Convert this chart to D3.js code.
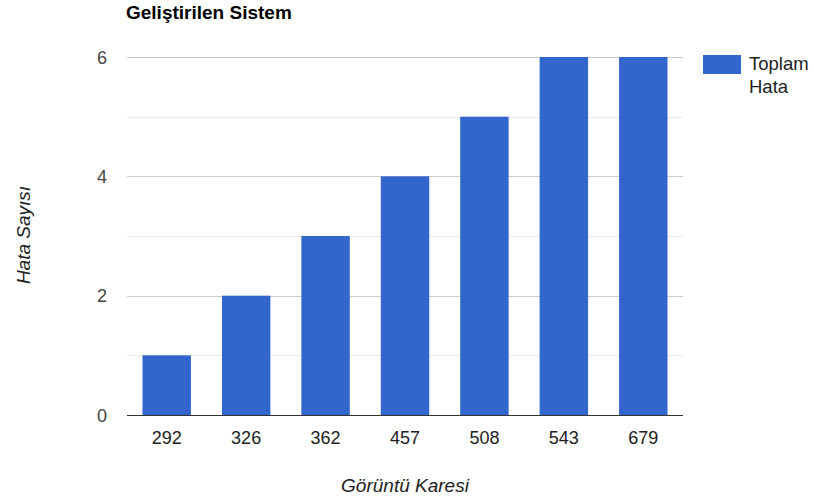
<!DOCTYPE html>
<html><head><meta charset="utf-8">
<script src="https://cdn.jsdelivr.net/npm/d3@7"></script>
<style>body{margin:0;background:#fff}svg{display:block;font-family:"Liberation Sans",Arial,sans-serif}</style>
</head><body><div id="c"></div>
<script>
const categories = ["292","326","362","457","508","543","679"];
const values = [1,2,3,4,5,6,6];
const yTicks = [0,2,4,6];
const yMinor = [1,3,5];
const seriesName = ["Toplam","Hata"];
const title = "Geliştirilen Sistem";
const xTitle = "Görüntü Karesi";
const yTitle = "Hata Sayısı";

const W=814,H=502;
const m={l:127,r:131,t:57,b:87};
const svg=d3.select("#c").append("svg").attr("width",W).attr("height",H);
const x=d3.scaleBand().domain(categories).range([m.l,W-m.r]).paddingInner(0.39).paddingOuter(0.195);
const y=d3.scaleLinear().domain([0,6]).range([H-m.b,m.t]);

const g=svg.append("g");
g.selectAll(".minor").data(yMinor).enter().append("line")
 .attr("x1",m.l).attr("x2",W-m.r).attr("y1",d=>Math.round(y(d))+0.5).attr("y2",d=>Math.round(y(d))+0.5)
 .attr("stroke","#ebebeb");
g.selectAll(".major").data(yTicks.filter(d=>d>0)).enter().append("line")
 .attr("x1",m.l).attr("x2",W-m.r).attr("y1",d=>Math.round(y(d))+0.5).attr("y2",d=>Math.round(y(d))+0.5)
 .attr("stroke","#cccccc");

g.selectAll("rect.bar").data(values).enter().append("rect")
 .attr("x",(d,i)=>x(categories[i])).attr("width",x.bandwidth())
 .attr("y",d=>y(d)).attr("height",d=>y(0)-y(d)).attr("fill","#3366cc");

g.append("line").attr("x1",m.l).attr("x2",W-m.r).attr("y1",y(0)+0.5).attr("y2",y(0)+0.5).attr("stroke","#333");

// y tick labels
g.selectAll(".yt").data(yTicks).enter().append("text")
 .attr("x",107).attr("y",d=>y(d)+6.5).attr("text-anchor","end")
 .attr("font-size",18).attr("fill","#444").text(d=>d);
// x tick labels
g.selectAll(".xt").data(categories).enter().append("text")
 .attr("x",d=>x(d)+x.bandwidth()/2).attr("y",444).attr("text-anchor","middle")
 .attr("font-size",18).attr("fill","#222").text(d=>d);

svg.append("text").attr("x",126).attr("y",19).attr("font-size",19).attr("font-weight","bold").attr("fill","#000").text(title);
svg.append("text").attr("x",405).attr("y",492).attr("text-anchor","middle")
 .attr("font-size",19).attr("font-style","italic").attr("fill","#222").text(xTitle);
svg.append("text").attr("transform","translate(30,235) rotate(-90)").attr("text-anchor","middle")
 .attr("font-size",19).attr("font-style","italic").attr("fill","#222").text(yTitle);

// legend
const lg=svg.append("g");
lg.append("rect").attr("x",703).attr("y",55).attr("width",38).attr("height",19).attr("fill","#3366cc");
lg.selectAll("text").data(seriesName).enter().append("text")
 .attr("x",749).attr("y",(d,i)=>70+i*23).attr("font-size",18.5).attr("fill","#222").text(d=>d);
</script></body></html>
